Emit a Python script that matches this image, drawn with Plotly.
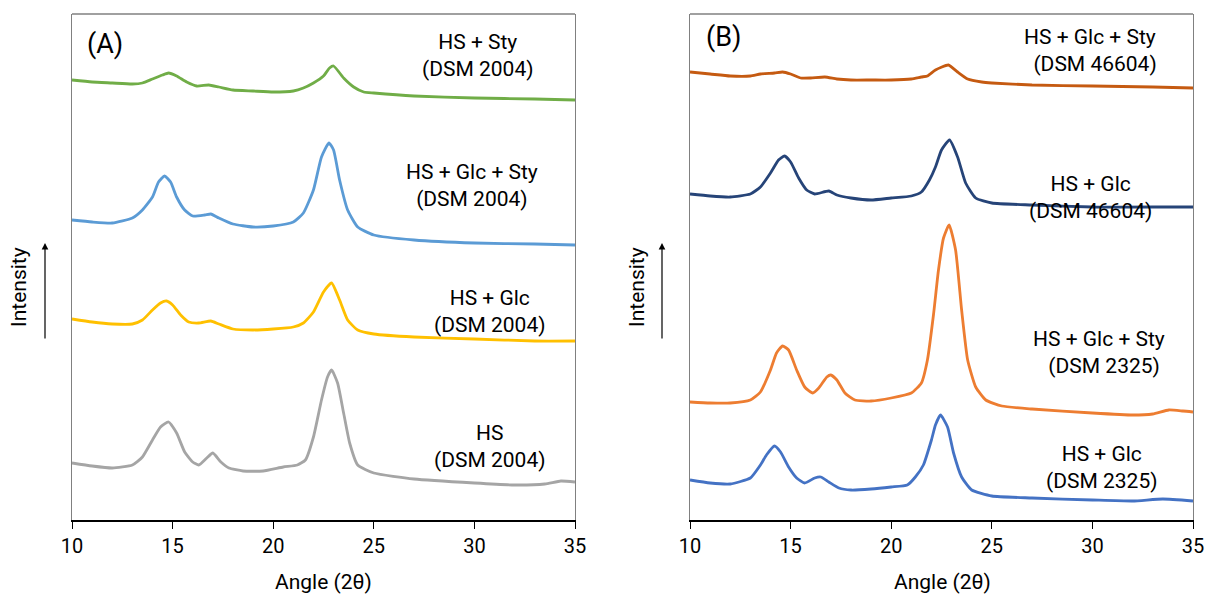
import plotly.graph_objects as go

# ---------------- Data (2θ in degrees, intensity in a.u., stacked offsets) ----------------
# Panel A (DSM 2004)
a_sty_x = [10, 11, 12, 13, 13.5, 14, 14.5, 14.8, 15.2, 15.7, 16.2, 16.8, 17.3, 18, 19, 20, 21, 21.5, 22, 22.5,
           22.8, 23.0, 23.5, 24, 24.5, 25, 27, 30, 33, 35]
a_sty_y = [440, 438, 437, 436, 437, 441, 445, 447, 444, 438, 434, 435, 433, 430, 429, 428, 429, 432, 437, 444,
           452, 454, 442, 433, 428, 427, 424, 422, 421, 420]

a_glcsty_x = [10, 11, 12, 13, 13.5, 14, 14.3, 14.6, 14.9, 15.2, 15.6, 16, 16.6, 16.9, 17.3, 18, 19, 20, 21, 21.5,
              22, 22.4, 22.77, 23.0, 23.3, 23.7, 24.2, 25, 27, 30, 33, 35]
a_glcsty_y = [300, 298, 297, 302, 310, 323, 338, 344, 338, 323, 310, 304, 305, 306, 302, 296, 293, 294, 298, 307,
              330, 363, 377, 370, 340, 310, 293, 285, 280, 277, 276, 275]

a_glc_x = [10, 11, 12, 13, 13.5, 14, 14.4, 14.7, 15, 15.4, 15.8, 16.3, 16.9, 17.3, 18, 19, 20, 21, 21.5, 22,
           22.5, 22.9, 23.3, 23.7, 24.2, 25, 27, 30, 33, 35]
a_glc_y = [201, 198, 196, 196, 200, 210, 217, 219, 215, 205, 198, 197, 199, 196, 191, 190, 191, 193, 197, 208,
           228, 237, 220, 200, 190, 186, 183, 181, 179, 179]

a_hs_x = [10, 11, 12, 13, 13.5, 14, 14.4, 14.8, 15.2, 15.6, 16, 16.3, 16.7, 17, 17.4, 17.8, 18.5, 19.5, 20.5, 21.2,
          21.6, 22, 22.4, 22.7, 22.9, 23.2, 23.5, 23.8, 24.2, 25, 27, 30, 32, 33.5, 34.3, 35]
a_hs_y = [57, 54, 52, 55, 63, 80, 93, 98, 87, 68, 58, 55, 62, 67, 58, 52, 49, 49, 53, 55,
          60, 83, 120, 143, 150, 137, 107, 77, 55, 47, 41, 37, 35, 36, 39, 38]

# Panel B (DSM 46604 / DSM 2325)
b_glcsty46_x = [10, 11, 12, 13, 13.5, 14.2, 14.6, 15, 15.5, 16, 16.7, 17.3, 18, 19, 20, 21, 21.5, 21.8, 22.2, 22.84,
                23.3, 23.8, 24.5, 25, 27, 30, 33, 35]
b_glcsty46_y = [448, 446, 444, 444, 446, 447, 448, 446, 442, 442, 443, 441, 440, 440, 440, 441, 443, 444, 450, 455,
                448, 441, 438, 437, 435, 434, 433, 432]

b_glc46_x = [10, 11, 12, 13, 13.5, 14, 14.4, 14.7, 15, 15.4, 15.8, 16.2, 16.9, 17.3, 18, 19, 20, 21, 21.5, 21.9,
             22.2, 22.5, 22.9, 23.3, 23.7, 24.2, 25, 27, 30, 33, 35]
b_glc46_y = [326, 324, 323, 326, 333, 347, 360, 364, 358, 342, 330, 326, 329, 325, 322, 320, 322, 324, 328, 340,
             353, 370, 380, 363, 337, 322, 317, 315, 313, 313, 313]

b_glcsty23_x = [10, 11, 12, 13, 13.5, 14, 14.3, 14.6, 14.9, 15.3, 15.7, 16.1, 16.4, 16.8, 17.0, 17.3, 17.7, 18.2, 19, 20,
                21, 21.5, 21.8, 22.1, 22.35, 22.6, 22.88, 23.2, 23.5, 23.8, 24.2, 24.7, 25.5, 27, 30, 32, 33, 33.8, 34.5, 35]
b_glcsty23_y = [118, 117, 117, 120, 128, 150, 167, 174, 170, 150, 133, 127, 132, 143, 145, 140, 127, 120, 119, 122,
                127, 137, 160, 205, 250, 282, 295, 270, 210, 160, 133, 120, 114, 111, 107, 105, 106, 110, 109, 108]

b_glc23_x = [10, 11, 12, 13, 13.5, 13.8, 14.2, 14.5, 14.9, 15.3, 15.7, 16.2, 16.5, 16.9, 17.4, 18, 19, 20, 20.8, 21.2,
             21.6, 22.0, 22.2, 22.45, 22.8, 23.1, 23.5, 24, 25, 27, 30, 32, 33.5, 35]
b_glc23_y = [40, 37, 36, 42, 55, 65, 74, 68, 53, 42, 37, 42, 43, 38, 32, 30, 31, 33, 35, 43,
             55, 80, 95, 105, 93, 67, 43, 30, 24, 22, 20, 19, 21, 19]

x_ticks = [10, 15, 20, 25, 30, 35]
x_title = "Angle (2θ)"
y_title = "Intensity"

series_a = [
    ("HS + Sty (DSM 2004)", a_sty_x, a_sty_y, "#70AD47"),
    ("HS + Glc + Sty (DSM 2004)", a_glcsty_x, a_glcsty_y, "#5B9BD5"),
    ("HS + Glc (DSM 2004)", a_glc_x, a_glc_y, "#FFC000"),
    ("HS (DSM 2004)", a_hs_x, a_hs_y, "#A5A5A5"),
]
series_b = [
    ("HS + Glc + Sty (DSM 46604)", b_glcsty46_x, b_glcsty46_y, "#C55A11"),
    ("HS + Glc (DSM 46604)", b_glc46_x, b_glc46_y, "#264478"),
    ("HS + Glc + Sty (DSM 2325)", b_glcsty23_x, b_glcsty23_y, "#ED7D31"),
    ("HS + Glc (DSM 2325)", b_glc23_x, b_glc23_y, "#4472C4"),
]

# ---------------- Figure ----------------
# page body has an 8px margin, so the figure is drawn 8px in from the window edge
OFF = 8
W, H = 1215 - 2 * OFF, 605 - 2 * OFF
FONT = "Roboto, 'DejaVu Sans', sans-serif"
fig = go.Figure()

LINE = dict(width=2.8, shape="spline", smoothing=0.5)
for name, xs, ys, col in series_a:
    fig.add_trace(go.Scatter(x=xs, y=ys, mode="lines", name=name, xaxis="x", yaxis="y",
                             line=dict(color=col, **LINE)))
for name, xs, ys, col in series_b:
    fig.add_trace(go.Scatter(x=xs, y=ys, mode="lines", name=name, xaxis="x2", yaxis="y2",
                             line=dict(color=col, **LINE)))

px = lambda v: (v - OFF) / W
py = lambda v: 1 - (v - OFF) / H
domA = [px(72), px(575)]
domB = [px(690), px(1193)]
ydom = [py(520), py(14)]

xax = dict(range=[10, 35], tickvals=x_ticks, ticks="outside", ticklen=7, tickcolor="black",
           tickwidth=1.3, showline=True, linecolor="black", linewidth=1.5, showgrid=False, zeroline=False,
           automargin=False,
           tickfont=dict(family=FONT, size=20, color="black"))
yax = dict(range=[0, 506], showticklabels=False, ticks="", showline=True, linecolor="#808080",
           linewidth=1.3, mirror=True, showgrid=False, zeroline=False, automargin=False)

fig.update_layout(
    width=W, height=H, margin=dict(l=0, r=0, t=0, b=0, autoexpand=False),
    plot_bgcolor="white", paper_bgcolor="white", showlegend=False,
    xaxis=dict(domain=domA, anchor="y", **xax),
    yaxis=dict(domain=ydom, anchor="x", **yax),
    xaxis2=dict(domain=domB, anchor="y2", **xax),
    yaxis2=dict(domain=ydom, anchor="x2", **yax),
)

# top frame lines
for x0, x1 in [(72, 575), (690, 1193)]:
    fig.add_shape(type="line", xref="paper", yref="paper", x0=px(x0), x1=px(x1), y0=py(14), y1=py(14),
                  line=dict(color="#808080", width=1.3))

ann = []
def label(xp, yp, text, size=21, xanchor="center", yanchor="middle", align="center"):
    ann.append(dict(x=px(xp), y=py(yp), xref="paper", yref="paper", text=text, showarrow=False,
                    xanchor=xanchor, yanchor=yanchor, align=align,
                    font=dict(family=FONT, size=size, color="black")))

label(105, 44, "(A)", size=27)
label(723, 37, "(B)", size=27)

label(478, 56, "HS + Sty<br>(DSM 2004)")
label(472, 186, "HS + Glc + Sty<br>(DSM 2004)")
label(490, 311, "HS + Glc<br>(DSM 2004)")
label(490, 446, "HS<br>(DSM 2004)")

label(1090, 50, "HS + Glc + Sty<br>  (DSM 46604)")
label(1090, 198, "HS + Glc<br>(DSM 46604)")
label(1099, 352, "HS + Glc + Sty<br>  (DSM 2325)")
label(1102, 467, "HS + Glc<br>(DSM 2325)")

# x-axis titles (kept fully inside the figure)
label(323, 596, x_title, yanchor="bottom")
label(942, 596, x_title, yanchor="bottom")

# Intensity labels with arrows
for xt, xa in [(19, 45), (637, 662)]:
    ann.append(dict(x=px(xt), y=py(287), xref="paper", yref="paper", text=y_title, textangle=-90,
                    xanchor="center", yanchor="middle",
                    showarrow=False, font=dict(family=FONT, size=21, color="black")))
    ann.append(dict(x=px(xa), y=py(243), xref="paper", yref="paper", text="", showarrow=True,
                    ax=0, ay=97, axref="pixel", ayref="pixel", arrowhead=2, arrowsize=1.1,
                    arrowwidth=1.2, arrowcolor="black"))

fig.update_layout(annotations=ann)
fig.write_html("out.html")
